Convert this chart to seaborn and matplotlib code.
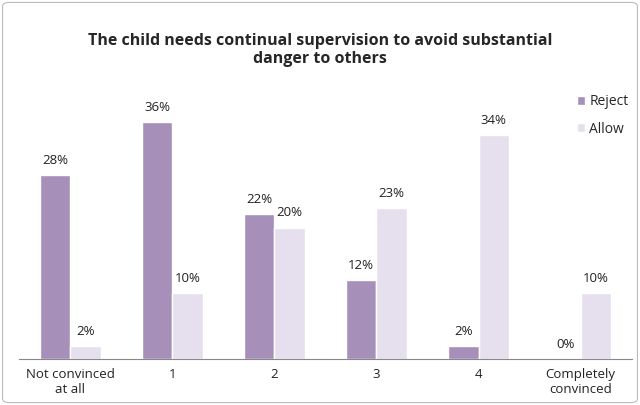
"""grouped bar chart: convinced the child needs supervision, Reject vs Allow"""
import matplotlib
matplotlib.use("Agg")
import matplotlib.pyplot as plt
import seaborn as sns
import pandas as pd
from matplotlib.patches import FancyBboxPatch

categories = ["Not convinced\nat all", "1", "2", "3", "4", "Completely\nconvinced"]
reject = [28, 36, 22, 12, 2, 0]
allow = [2, 10, 20, 23, 34, 10]
series = ["Reject", "Allow"]
colors = ["#a690ba", "#e6e0ee"]

sns.set_style("white")
plt.rcParams["font.family"] = ["Open Sans", "DejaVu Sans"]

df = pd.DataFrame(
    {
        "Category": categories * 2,
        "Share": reject + allow,
        "Response": ["Reject"] * len(categories) + ["Allow"] * len(categories),
    }
)

fig = plt.figure(figsize=(6.4, 4.05), dpi=100)
ax = fig.add_axes([0.03, 0.113, 0.957, 0.65])

sns.barplot(
    data=df,
    x="Category",
    y="Share",
    hue="Response",
    hue_order=series,
    palette=colors,
    width=0.6,
    saturation=1,
    ax=ax,
)

for cont in ax.containers:
    ax.bar_label(cont, labels=[f"{v:.0f}%" for v in cont.datavalues],
                 padding=6, fontsize=9.5, color="#222222")

ax.set_ylim(0, 40)
ax.set_xlim(-0.5, len(categories) - 0.5)
ax.set_yticks([])
ax.set_xlabel("")
ax.set_ylabel("")
ax.tick_params(axis="x", which="major", length=0, labelsize=9.5, pad=6,
               colors="#222222")
ax.set_xticks([i - 0.5 for i in range(len(categories) + 1)], minor=True)
ax.tick_params(axis="x", which="minor", length=4, color="#888888")
for side in ["top", "right", "left"]:
    ax.spines[side].set_visible(False)
ax.spines["bottom"].set_color("#888888")

ax.legend(loc="upper left", bbox_to_anchor=(0.89, 1.055), frameon=False,
          fontsize=10, handlelength=0.6, handleheight=0.6, handletextpad=0.3,
          labelspacing=0.9)

fig.suptitle("The child needs continual supervision to avoid substantial\ndanger to others",
             x=0.5, y=0.918, fontsize=11.5, fontweight="bold", linespacing=1.15)

frame = FancyBboxPatch((0.004, 0.006), 0.992, 0.988,
                       boxstyle="round,pad=0,rounding_size=0.01",
                       transform=fig.transFigure, fill=False,
                       edgecolor="#bbbbbb", linewidth=0.8)
fig.patches.append(frame)

fig.savefig("out.png", dpi=100)
